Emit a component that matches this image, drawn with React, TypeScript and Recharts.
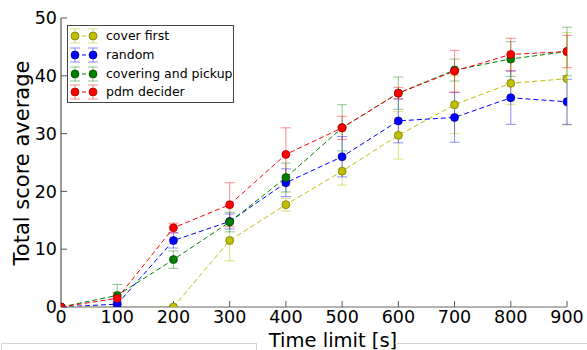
import { LineChart, Line, XAxis, YAxis, ErrorBar, Legend } from "recharts";

const timeLimits = [0, 100, 200, 300, 400, 500, 600, 700, 800, 900];
const xTicks = [0, 100, 200, 300, 400, 500, 600, 700, 800, 900];
const yTicks = [0, 10, 20, 30, 40, 50];

const coverFirst = [0, 0, 0, 11.5, 17.7, 23.5, 29.7, 35, 38.7, 39.5];
const coverFirstErr = [0, 0, 0, 3.5, 1.1, 2.4, 4.1, 5, 3.7, 8];
const random = [0, 0.5, 11.5, 14.8, 21.5, 26, 32.2, 32.8, 36.2, 35.5];
const randomErr = [0, 0.4, 1.3, 1.3, 2.4, 3.5, 3.8, 4.3, 4.6, 3.9];
const covering = [0, 2, 8.2, 14.7, 22.4, 31, 37, 41, 42.9, 44.2];
const coveringErr = [0, 1.9, 1.5, 1.7, 2.5, 4, 2.8, 1.9, 3, 4.2];
const pdm = [0, 1.5, 13.7, 17.7, 26.4, 31, 37, 40.8, 43.7, 44.2];
const pdmErr = [0, 1, 0.8, 3.8, 4.6, 2, 1, 3.6, 2.8, 2.8];

const series = [
  { key: "cover", name: "cover first", color: "#bfbf00", edge: "#6f6f00", err: "rgba(191,191,0,0.5)" },
  { key: "random", name: "random", color: "#0000ff", edge: "#00008a", err: "rgba(0,0,255,0.45)" },
  { key: "covering", name: "covering and pickup", color: "#008000", edge: "#004000", err: "rgba(0,128,0,0.45)" },
  { key: "pdm", name: "pdm decider", color: "#ff0000", edge: "#a00000", err: "rgba(255,0,0,0.45)" },
];

const data = timeLimits.map((t, i) => ({
  t,
  cover: coverFirst[i],
  coverErr: coverFirstErr[i],
  random: random[i],
  randomErr: randomErr[i],
  covering: covering[i],
  coveringErr: coveringErr[i],
  pdm: pdm[i],
  pdmErr: pdmErr[i],
}));

const font = "DejaVu Sans";
const spine = "#9a9a9a";

function LegendBox() {
  return (
    <div
      style={{
        width: 167,
        height: 78,
        border: "1px solid #444",
        background: "#fff",
        fontFamily: font,
        fontSize: 12.5,
        lineHeight: "14px",
        color: "#000",
        boxSizing: "border-box",
        paddingTop: 1,
        whiteSpace: "nowrap",
        overflow: "visible",
      }}
    >
      {series.map((s) => (
        <div key={s.key} style={{ display: "flex", alignItems: "center", height: 18.7, whiteSpace: "nowrap" }}>
          <svg width={38} height={18} style={{ flex: "none", display: "block" }}>
            <line x1={7} y1={9} x2={25} y2={9} stroke={s.color} strokeDasharray="4 3" />
            {[7, 25].map((cx) => (
              <g key={cx}>
                <line x1={cx} y1={2} x2={cx} y2={16} stroke={s.err} />
                <line x1={cx - 5} y1={2} x2={cx + 5} y2={2} stroke={s.err} />
                <line x1={cx - 5} y1={16} x2={cx + 5} y2={16} stroke={s.err} />
                <circle cx={cx} cy={9} r={4} fill={s.color} stroke={s.edge} strokeWidth={0.7} />
              </g>
            ))}
          </svg>
          <span style={{ flex: "none", whiteSpace: "nowrap" }}>{s.name}</span>
        </div>
      ))}
    </div>
  );
}

export default function App() {
  return (
    <div style={{ position: "absolute", left: 0, top: 0, width: 587, height: 350, background: "#fff" }}>
      <LineChart
        width={587}
        height={350}
        data={data}
        margin={{ top: 18, right: 20, bottom: 0, left: 0 }}
        style={{ fontFamily: font }}
      >
        <XAxis
          dataKey="t"
          type="number"
          domain={[0, 900]}
          ticks={xTicks}
          allowDataOverflow
          height={43}
          tickSize={-6}
          tickMargin={10}
          tick={{ fontSize: 17.5, fill: "#000", fontFamily: font }}
          stroke={spine}
          axisLine={{ stroke: spine, strokeWidth: 1.5 }}
          tickLine={{ stroke: "#555" }}
          label={{
            content: () => (
              <text x={333} y={346.5} textAnchor="middle" fontSize={19.5} fontFamily={font} fill="#000">
                Time limit [s]
              </text>
            ),
          }}
        />
        <XAxis
          xAxisId="top"
          dataKey="t"
          type="number"
          orientation="top"
          domain={[0, 900]}
          ticks={xTicks}
          height={0}
          tickSize={-6}
          tickFormatter={() => ""}
          axisLine={{ stroke: spine, strokeWidth: 1.5 }}
          tickLine={{ stroke: "#555" }}
        />
        <YAxis
          type="number"
          domain={[0, 50]}
          ticks={yTicks}
          allowDataOverflow
          width={61}
          tickSize={-6}
          tickMargin={10}
          tick={{ fontSize: 17.5, fill: "#000", fontFamily: font }}
          axisLine={{ stroke: spine, strokeWidth: 2 }}
          tickLine={{ stroke: "#555" }}
          label={{
            content: () => (
              <text
                transform="translate(29,163) rotate(-90)"
                textAnchor="middle"
                fontSize={21}
                fontFamily={font}
                fill="#000"
              >
                Total score average
              </text>
            ),
          }}
        />
        <YAxis
          yAxisId="right"
          type="number"
          orientation="right"
          domain={[0, 50]}
          ticks={yTicks}
          width={0}
          tickSize={-6}
          tickFormatter={() => ""}
          axisLine={{ stroke: "#777", strokeWidth: 1.5 }}
          tickLine={{ stroke: "#555" }}
        />
        <Legend
          layout="vertical"
          align="center"
          verticalAlign="middle"
          wrapperStyle={{ left: 67, top: 25, width: 167, height: 78 }}
          content={() => <LegendBox />}
        />
        {series.map((s) => (
          <Line
            key={s.key}
            dataKey={s.key}
            name={s.name}
            stroke={s.color}
            strokeWidth={1}
            strokeDasharray="5 3"
            dot={{ r: 4, fill: s.color, stroke: s.edge, strokeWidth: 0.7, strokeDasharray: "" }}
            activeDot={false}
            isAnimationActive={false}
          >
            <ErrorBar dataKey={s.key + "Err"} width={5} stroke={s.err} strokeWidth={1} direction="y" />
          </Line>
        ))}
      </LineChart>
      <div
        style={{
          position: "absolute",
          left: 1,
          top: 343,
          width: 254,
          height: 10,
          borderTop: "1px solid #d4d4d4",
          borderLeft: "1px solid #d4d4d4",
          borderRight: "1px solid #d4d4d4",
        }}
      />
      <div
        style={{
          position: "absolute",
          left: 395,
          top: 343,
          width: 192,
          borderTop: "1px solid #d4d4d4",
        }}
      />
    </div>
  );
}
